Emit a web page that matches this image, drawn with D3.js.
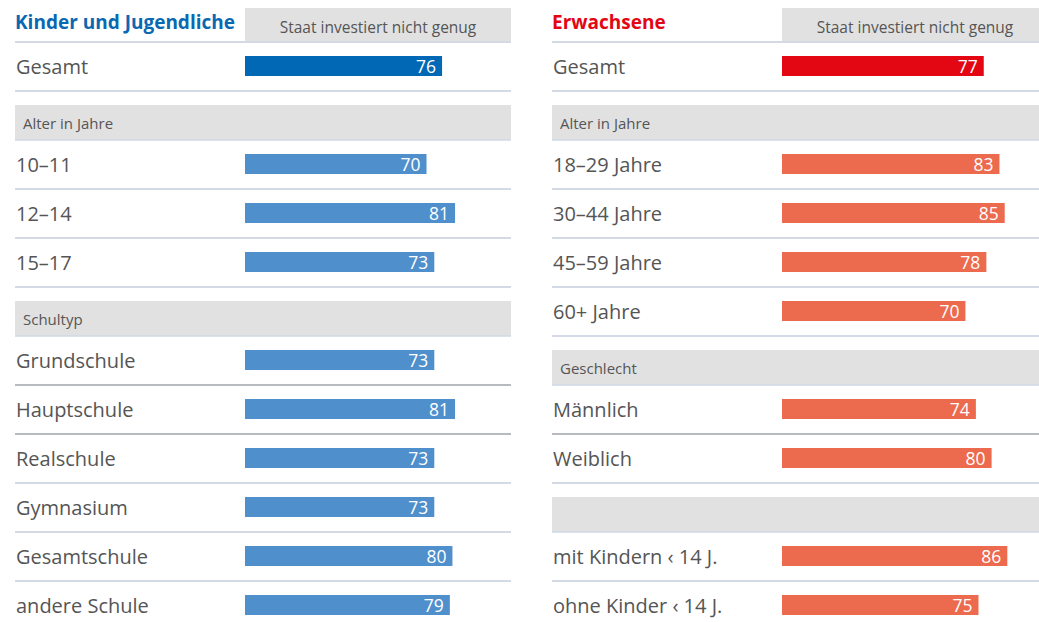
<!DOCTYPE html>
<html>
<head>
<meta charset="utf-8">
<script src="https://cdn.jsdelivr.net/npm/d3@7"></script>
<style>
  body { margin: 0; background: #fff; }
  svg text { font-family: "Open Sans", sans-serif; }
</style>
</head>
<body>
<div id="chart"></div>
<script>
// data - Kinder und Jugendliche
var kidsTitle = "Kinder und Jugendliche";
var kidsCategories = ["Gesamt", "10–11", "12–14", "15–17", "Grundschule", "Hauptschule",
    "Realschule", "Gymnasium", "Gesamtschule", "andere Schule"];
var kidsValues = [76, 70, 81, 73, 73, 81, 73, 73, 80, 79];
var kidsSectionTitles = ["Alter in Jahre", "Schultyp"];
var kidsSectionStarts = [1, 4];

// data - Erwachsene
var adultTitle = "Erwachsene";
var adultCategories = ["Gesamt", "18–29 Jahre", "30–44 Jahre", "45–59 Jahre", "60+ Jahre",
    "Männlich", "Weiblich", "mit Kindern ‹ 14 J.", "ohne Kinder ‹ 14 J."];
var adultValues = [77, 83, 85, 78, 70, 74, 80, 86, 75];
var adultSectionTitles = ["Alter in Jahre", "Geschlecht", ""];
var adultSectionStarts = [1, 5, 7];

var headerText = "Staat investiert nicht genug";

//svg base
var svgwdth = 1039;
var svghght = 622;

var svg = d3.select("#chart")
    .append("svg")
    .attr("width", svgwdth)
    .attr("height", svghght);

// rules drawn darker grey (style only)
var darkRules = ["Grundschule", "Hauptschule", "Männlich"];

function drawPanel(x0, cfg) {
    var panelW = 496;
    var labelW = 230;
    var rowH = 49, gap = 14, secH = 35, top = 42;

    var g = svg.append("g").attr("transform", `translate(${x0}, 0)`);

    // work out row tops + section boxes
    var rowTops = [], sections = [];
    var y = top;
    cfg.categories.forEach((c, i) => {
        var s = cfg.sectionStarts.indexOf(i);
        if (s > -1) {
            y += gap;
            sections.push({title: cfg.sectionTitles[s], y: y});
            y += secH;
        }
        rowTops.push(y);
        y += rowH;
    });

    var yScale = d3.scaleOrdinal().domain(cfg.categories).range(rowTops);
    var xScale = d3.scaleLinear().domain([0, 100]).range([0, cfg.barRange]);

    // title + header box
    g.append("rect")
      .attr("x", labelW).attr("y", 8)
      .attr("width", panelW - labelW).attr("height", top - 8)
      .attr("fill", "#e1e1e1");
    g.append("text")
      .attr("x", labelW + (panelW - labelW) / 2)
      .attr("y", 33)
      .attr("text-anchor", "middle")
      .attr("font-size", "15.5px")
      .attr("fill", "#555")
      .text(headerText);
    g.append("text")
      .attr("x", 0).attr("y", 29)
      .attr("font-size", "19px")
      .attr("font-weight", "bold")
      .attr("fill", cfg.titleColor)
      .text(cfg.title);
    g.append("line")
      .attr("x1", 0).attr("x2", panelW)
      .attr("y1", top).attr("y2", top)
      .attr("stroke", "#d3dae6").attr("stroke-width", 2);

    // section header boxes
    var sec = g.selectAll(".sec").data(sections).enter()
      .append("g").attr("class", "sec");
    sec.append("rect")
      .attr("x", 0).attr("y", d => d.y)
      .attr("width", panelW).attr("height", secH)
      .attr("fill", "#e1e1e1");
    sec.append("line")
      .attr("x1", 0).attr("x2", panelW)
      .attr("y1", d => d.y + secH).attr("y2", d => d.y + secH)
      .attr("stroke", "#d0d8e6").attr("stroke-width", 1.5);
    sec.append("text")
      .attr("x", 8).attr("y", d => d.y + 24)
      .attr("font-size", "15px")
      .attr("fill", "#555")
      .text(d => d.title);

    var data = cfg.categories.map((c, i) => ({cat: c, val: cfg.values[i]}));

    var rows = g.selectAll(".row").data(data).enter()
      .append("g").attr("class", "row")
      .attr("transform", d => `translate(0, ${yScale(d.cat)})`);

    // separator under each row
    rows.append("line")
      .attr("x1", 0).attr("x2", panelW)
      .attr("y1", rowH).attr("y2", rowH)
      .attr("stroke", d => darkRules.indexOf(d.cat) > -1 ? "#b7babf" : "#d3dae6")
      .attr("stroke-width", 2);

    rows.append("text")
      .attr("x", 1).attr("y", 31.5)
      .attr("font-size", "20px")
      .attr("fill", "#555")
      .text(d => d.cat);

    rows.append("rect")
      .attr("x", labelW).attr("y", 14)
      .attr("width", d => xScale(d.val))
      .attr("height", 20)
      .attr("fill", (d, i) => i === 0 ? cfg.mainColor : cfg.barColor);

    rows.append("text")
      .attr("x", d => labelW + xScale(d.val) - 6)
      .attr("y", 31)
      .attr("text-anchor", "end")
      .attr("font-size", "17.5px")
      .attr("fill", "#fff")
      .text(d => d.val);
}

drawPanel(15, {
    title: kidsTitle, titleColor: "#0a68b2",
    categories: kidsCategories, values: kidsValues,
    sectionTitles: kidsSectionTitles, sectionStarts: kidsSectionStarts,
    mainColor: "#0068b4", barColor: "#4f8fcc", barRange: 259.3
});

drawPanel(552, {
    title: adultTitle, titleColor: "#e30613",
    categories: adultCategories, values: adultValues,
    sectionTitles: adultSectionTitles, sectionStarts: adultSectionStarts,
    mainColor: "#e30613", barColor: "#ec6a4e", barRange: 262
});
</script>
</body>
</html>
